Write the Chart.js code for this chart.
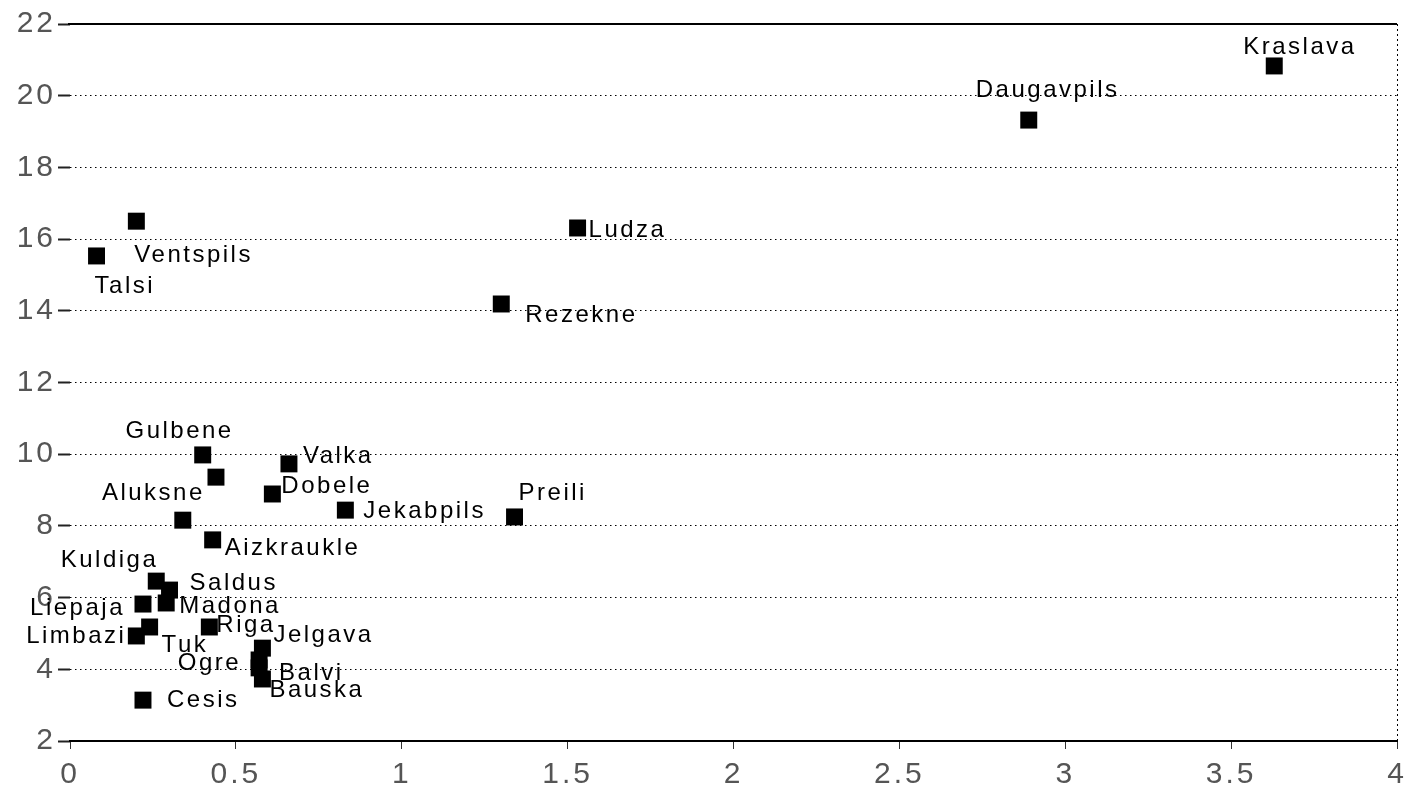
<!DOCTYPE html>
<html>
<head>
<meta charset="utf-8">
<script src="https://cdn.jsdelivr.net/npm/chart.js@4.4.1/dist/chart.umd.min.js"></script>
<style>
  html, body { margin: 0; padding: 0; background: #fff; }
  #wrap { width: 1409px; height: 787px; }
</style>
</head>
<body>
<div id="wrap"><canvas id="c" width="1409" height="787"></canvas></div>
<script>
// ---- data ----
const districts = ['Kraslava','Daugavpils','Ventspils','Talsi','Ludza','Rezekne','Gulbene','Valmiera','Valka','Dobele','Jekabpils','Preili','Aluksne','Aizkraukle','Kuldiga','Saldus','Madona','Liepaja','Limbazi','Tukums','Riga','Jelgava','Ogre','Balvi','Bauska','Cesis'];
const labelTexts = ['Kraslava','Daugavpils','Ventspils','Talsi','Ludza','Rezekne','Gulbene','','Valka','Dobele','Jekabpils','Preili','Aluksne','Aizkraukle','Kuldiga','Saldus','Madona','Liepaja','Limbazi','Tuk','Riga','Jelgava','Ogre','Balvi','Bauska','Cesis'];
const xValues = [3.63, 2.89, 0.20, 0.08, 1.53, 1.30, 0.40, 0.44, 0.66, 0.61, 0.83, 1.34, 0.34, 0.43, 0.26, 0.30, 0.29, 0.22, 0.20, 0.24, 0.42, 0.58, 0.57, 0.57, 0.58, 0.22];
const yValues = [20.83, 19.32, 16.50, 15.53, 16.31, 14.19, 9.98, 9.36, 9.73, 8.89, 8.44, 8.25, 8.16, 7.61, 6.46, 6.21, 5.85, 5.82, 4.93, 5.18, 5.18, 4.59, 4.26, 4.04, 3.73, 3.14];
const xTickStep = 0.5;
const yTickStep = 2;

// ---- label placement (pixel offsets from marker centre, baseline) ----
const labelPlacement = {
  Kraslava: [-31, -12, 'left'], Daugavpils: [-53, -23, 'left'], Ventspils: [-2, 41, 'left'],
  Talsi: [-2, 37, 'left'], Ludza: [11, 9, 'left'], Rezekne: [24, 18, 'left'],
  Gulbene: [31, -17, 'right'], Valka: [14, -1, 'left'], Dobele: [9, -1, 'left'],
  Jekabpils: [18, 8, 'left'], Preili: [4, -17, 'left'], Aluksne: [22, -20, 'right'],
  Aizkraukle: [12, 15, 'left'], Kuldiga: [2, -14, 'right'], Saldus: [20, 0, 'left'],
  Madona: [13, 10, 'left'], Liepaja: [-18, 11, 'right'], Limbazi: [-10, 7, 'right'],
  Tukums: [12, 25, 'left'], Riga: [7, 5, 'left'], Jelgava: [11, -6, 'left'],
  Ogre: [-18, 10, 'right'], Balvi: [20, 12, 'left'], Bauska: [7, 18, 'left'], Cesis: [24, 7, 'left']
};

const points = xValues.map((x, i) => ({ x: x, y: yValues[i] }));

const frameAndLabels = {
  id: 'frameAndLabels',
  beforeDraw(chart) { chart.ctx.letterSpacing = '3px'; },
  afterDatasetsDraw(chart) {
    const ctx = chart.ctx;
    const a = chart.chartArea;
    ctx.save();
    // top solid frame line
    ctx.strokeStyle = '#000';
    ctx.lineWidth = 2;
    ctx.setLineDash([]);
    ctx.beginPath();
    ctx.moveTo(a.left - 2, a.top);
    ctx.lineTo(a.right, a.top);
    ctx.stroke();
    // point labels
    ctx.letterSpacing = '2.5px';
    ctx.font = '24px "Liberation Sans", Arial, sans-serif';
    ctx.fillStyle = '#000';
    ctx.textBaseline = 'alphabetic';
    const meta = chart.getDatasetMeta(0);
    meta.data.forEach((el, i) => {
      const txt = labelTexts[i];
      const p = labelPlacement[districts[i]];
      if (!txt || !p) return;
      ctx.textAlign = p[2];
      ctx.fillText(txt, el.x + p[0], el.y + p[1]);
    });
    ctx.restore();
  },
  afterDraw(chart) { chart.ctx.letterSpacing = '0px'; }
};

new Chart(document.getElementById('c'), {
  type: 'scatter',
  data: {
    datasets: [{
      label: 'districts',
      data: points,
      pointStyle: 'rect',
      pointRadius: 12,
      pointHoverRadius: 12,
      backgroundColor: '#000',
      borderColor: '#000',
      borderWidth: 0
    }]
  },
  options: {
    responsive: false,
    animation: false,
    events: [],
    layout: { padding: { top: 24, right: 8, left: 0, bottom: 0 } },
    plugins: { legend: { display: false }, tooltip: { enabled: false }, title: { display: false } },
    scales: {
      x: {
        type: 'linear',
        position: 'bottom',
        min: 0, max: 4,
        ticks: {
          stepSize: xTickStep, color: '#555',
          font: { family: '"Liberation Sans", Arial, sans-serif', size: 30 },
          padding: 8, maxRotation: 0, autoSkip: false,
          callback: (v) => String(Number(v))
        },
        grid: {
          drawOnChartArea: true,
          color: (c) => (c.tick && c.tick.value === 4) ? '#000' : 'rgba(0,0,0,0)',
          lineWidth: 1,
          tickLength: 8,
          tickColor: '#333',
          tickWidth: 1
        },
        border: { display: true, color: '#000', width: 2, dash: [2, 3] },
        afterFit: (s) => { s.height = 46; s.paddingLeft = 0; s.paddingRight = 0; }
      },
      y: {
        type: 'linear',
        min: 2, max: 22,
        ticks: { stepSize: yTickStep, color: '#555', font: { family: '"Liberation Sans", Arial, sans-serif', size: 30 }, padding: 2 },
        grid: {
          color: '#000',
          lineWidth: 1,
          tickLength: 12,
          tickColor: '#222',
          tickWidth: 2
        },
        border: { display: false, dash: [1.5, 3.5] },
        afterFit: (s) => { s.width = 70; s.paddingTop = 0; s.paddingBottom = 0; }
      }
    }
  },
  plugins: [frameAndLabels]
});
</script>
</body>
</html>
